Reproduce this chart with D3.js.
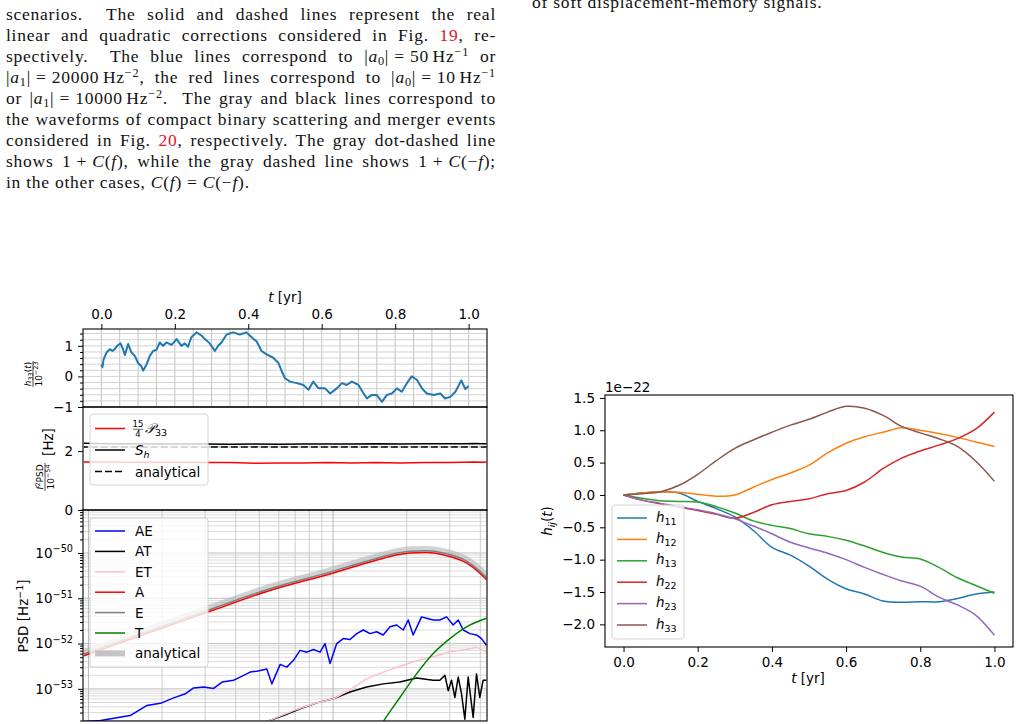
<!DOCTYPE html>
<html>
<head>
<meta charset="utf-8">
<script src="https://cdn.jsdelivr.net/npm/d3@7"></script>
<style>
  body { margin: 0; background: #fff; }
  #page { position: relative; width: 1020px; height: 724px; overflow: hidden; }
  .col { position: absolute; font-family: "Liberation Serif", "DejaVu Serif", serif; font-size: 17.5px; letter-spacing: 0.75px; color: #111; }
  .col .ln { height: 21px; line-height: 21px; text-align: justify; text-align-last: justify; white-space: nowrap; }
  .col .ln.last { text-align-last: left; }
  .col sup, .col sub { font-size: 70%; line-height: 0; position: relative; vertical-align: baseline; }
  .col sup { top: -0.5em; }
  .col sub { top: 0.25em; }
  .ref { color: #e8141c; }
  svg { position: absolute; left: 0; top: 0; }
</style>
</head>
<body>
<div id="page">
  <div class="col" style="left:6px; top:4px; width:490px">
    <div class="ln">scenarios.&nbsp; The solid and dashed lines represent the real</div>
    <div class="ln">linear and quadratic corrections considered in Fig. <span class="ref">19</span>, re-</div>
    <div class="ln">spectively.&nbsp; The blue lines correspond to |<i>a</i><sub>0</sub>|&#8197;=&#8197;50&#8198;Hz<sup>−1</sup> or</div>
    <div class="ln">|<i>a</i><sub>1</sub>|&#8197;=&#8197;20000&#8198;Hz<sup>−2</sup>, the red lines correspond to |<i>a</i><sub>0</sub>|&#8197;=&#8197;10&#8198;Hz<sup>−1</sup></div>
    <div class="ln">or |<i>a</i><sub>1</sub>|&#8197;=&#8197;10000&#8198;Hz<sup>−2</sup>.&nbsp; The gray and black lines correspond to</div>
    <div class="ln">the waveforms of compact binary scattering and merger events</div>
    <div class="ln">considered in Fig. <span class="ref">20</span>, respectively. The gray dot-dashed line</div>
    <div class="ln">shows 1&#8197;+&#8197;<i>C</i>(<i>f</i>), while the gray dashed line shows 1&#8197;+&#8197;<i>C</i>(−<i>f</i>);</div>
    <div class="ln last">in the other cases, <i>C</i>(<i>f</i>)&#8197;=&#8197;<i>C</i>(−<i>f</i>).</div>
  </div>
  <div class="col" style="left:532px; top:-8px; width:420px">
    <div class="ln last">of soft displacement-memory signals.</div>
  </div>
</div>
<script>
// ---------- right figure: h_ij(t), units of 1e-22 ----------
const hTime = [0, 0.05, 0.1, 0.15, 0.2, 0.25, 0.3, 0.35, 0.4, 0.45, 0.5, 0.55, 0.6, 0.65, 0.7, 0.75, 0.8, 0.85, 0.9, 0.95, 1.0];
const h11 = [0, 0.03, 0.05, 0.03, -0.10, -0.21, -0.34, -0.55, -0.81, -0.93, -1.10, -1.30, -1.45, -1.53, -1.64, -1.66, -1.65, -1.65, -1.60, -1.53, -1.50];
const h12 = [0, 0.03, 0.05, 0.04, 0.01, -0.02, 0.0, 0.12, 0.24, 0.34, 0.46, 0.65, 0.80, 0.90, 0.97, 1.04, 1.00, 0.95, 0.89, 0.82, 0.75];
const h13 = [0, -0.05, -0.09, -0.10, -0.11, -0.18, -0.28, -0.40, -0.47, -0.52, -0.60, -0.64, -0.70, -0.79, -0.89, -0.96, -0.99, -1.12, -1.28, -1.40, -1.52];
const h22 = [0, -0.08, -0.14, -0.19, -0.24, -0.30, -0.36, -0.27, -0.15, -0.10, -0.06, 0.02, 0.07, 0.20, 0.41, 0.57, 0.68, 0.77, 0.87, 1.02, 1.28];
const h23 = [0, -0.08, -0.13, -0.18, -0.23, -0.29, -0.37, -0.48, -0.60, -0.73, -0.82, -0.90, -1.00, -1.12, -1.23, -1.33, -1.41, -1.58, -1.70, -1.86, -2.17];
const h33 = [0, 0.02, 0.05, 0.15, 0.32, 0.53, 0.72, 0.85, 0.97, 1.08, 1.17, 1.28, 1.37, 1.34, 1.23, 1.06, 0.96, 0.87, 0.75, 0.52, 0.21];
const hNames = ["11", "12", "13", "22", "23", "33"];
const hColors = ["#1f77b4", "#ff7f0e", "#2ca02c", "#d62728", "#9467bd", "#8c564b"];

// ---------- left figure, top panel: h33(t) / 1e-23 ----------
const tsT = [0, 0.003, 0.006, 0.014, 0.023, 0.03, 0.036, 0.045, 0.052, 0.059, 0.064, 0.073, 0.082, 0.091, 0.1, 0.109, 0.114, 0.123, 0.132, 0.141, 0.15, 0.159, 0.168, 0.177, 0.191, 0.205, 0.218, 0.227, 0.236, 0.245, 0.259, 0.273, 0.282, 0.295, 0.309, 0.318, 0.327, 0.341, 0.359, 0.377, 0.395, 0.409, 0.423, 0.436, 0.45, 0.468, 0.482, 0.491, 0.5, 0.514, 0.532, 0.55, 0.564, 0.577, 0.591, 0.609, 0.623, 0.641, 0.655, 0.668, 0.682, 0.7, 0.714, 0.723, 0.736, 0.75, 0.764, 0.777, 0.791, 0.805, 0.818, 0.832, 0.845, 0.859, 0.873, 0.886, 0.905, 0.923, 0.936, 0.95, 0.964, 0.98, 0.991, 1.0];
const tsV = [0.39, 0.30, 0.56, 0.78, 0.89, 0.83, 0.89, 1.02, 1.08, 0.89, 0.70, 1.06, 0.78, 0.67, 0.44, 0.33, 0.19, 0.39, 0.67, 0.83, 0.87, 1.11, 1.0, 1.11, 1.03, 1.22, 1.0, 1.08, 0.97, 1.28, 1.44, 1.33, 1.22, 1.08, 0.83, 1.0, 1.11, 1.37, 1.44, 1.37, 1.44, 1.28, 1.14, 0.83, 0.72, 0.61, 0.44, 0.17, -0.06, -0.17, -0.22, -0.28, -0.44, -0.17, -0.39, -0.39, -0.56, -0.39, -0.22, -0.28, -0.17, -0.28, -0.56, -0.72, -0.61, -0.61, -0.83, -0.61, -0.56, -0.39, -0.5, -0.22, 0.0, -0.11, -0.39, -0.56, -0.61, -0.56, -0.72, -0.67, -0.5, -0.13, -0.41, -0.31];

// ---------- left figure, middle panel: f^2 PSD / 1e-54 (frequency in nHz) ----------
const midFreq = [9.57, 12, 15, 19, 24, 30, 38, 48, 60, 75, 95, 120, 150, 190, 240, 300, 340, 380, 410, 424];
const p33Vals = [1.63, 1.63, 1.62, 1.62, 1.62, 1.61, 1.61, 1.59, 1.60, 1.60, 1.61, 1.60, 1.61, 1.60, 1.61, 1.61, 1.62, 1.63, 1.62, 1.63];
const shVals = [2.27, 2.25, 2.25, 2.24, 2.24, 2.24, 2.23, 2.24, 2.23, 2.24, 2.24, 2.24, 2.25, 2.24, 2.25, 2.25, 2.25, 2.26, 2.25, 2.25];
const shAnalyticFreq = [9.57, 424];
const shAnalyticVals = [2.14, 2.14];
const grayDashedVals = [2.15, 2.15];

// ---------- left figure, bottom panel: PSD, stored as log10 values ----------
const aeFreq = [9.57, 11.2, 14.8, 17.3, 19.7, 22.3, 24.9, 26.9, 29.6, 32.5, 35.2, 39.2, 41.7, 45.8, 48.8, 53.6, 56.2, 60.8, 64.7, 68.9, 73.3, 78.1, 83.2, 88.5, 92.7, 97.2, 103.5, 110.1, 117.3, 125, 133, 141.6, 150.7, 160.4, 170.9, 181.9, 193.6, 202.9, 212.6, 230, 241, 256.7, 273.3, 291, 309.8, 325, 340.5, 362.5, 385.9, 404.4, 424];
const aeLog = [-53.72, -53.70, -53.59, -53.37, -53.32, -53.20, -53.11, -52.98, -52.96, -52.99, -52.85, -52.81, -52.74, -52.63, -52.61, -52.56, -52.89, -52.46, -52.52, -52.37, -52.15, -52.19, -52.13, -52.19, -52.00, -52.44, -52.00, -51.89, -51.91, -51.78, -51.70, -51.78, -51.74, -51.81, -51.63, -51.59, -51.70, -51.48, -51.81, -51.41, -51.44, -51.48, -51.48, -51.41, -51.59, -51.48, -51.70, -51.78, -51.81, -51.89, -52.04];
const atFreq = [45.8, 53.6, 62.7, 73.3, 85.8, 100.3, 117.3, 137.2, 160.4, 187.6, 219.5, 256.7, 273.3, 286.6, 295.7, 305, 314.8, 324.9, 335.2, 345.8, 356.8, 368.1, 374, 385.9, 398.1, 410.8, 424];
const atLog = [-53.95, -53.72, -53.59, -53.44, -53.31, -53.22, -53.07, -52.96, -52.89, -52.85, -52.76, -52.81, -52.81, -52.70, -53.04, -52.81, -53.19, -52.74, -53.11, -53.67, -52.74, -53.33, -53.63, -52.67, -53.19, -52.81, -52.81];
const etFreq = [45.8, 53.6, 68.9, 83.2, 100.3, 117.3, 137.2, 160.4, 187.6, 219.5, 256.7, 300.3, 351.3, 385.9, 424];
const etLog = [-53.95, -53.72, -53.48, -53.33, -53.22, -53.02, -52.78, -52.63, -52.50, -52.38, -52.29, -52.18, -52.13, -52.08, -52.19];
const aFreq = [9.57, 17.9, 32.5, 53.6, 100.3, 137.2, 206.3, 241.2, 282, 351.3, 398.1, 424];
const aLog = [-52.27, -51.75, -51.26, -50.85, -50.44, -50.22, -50.00, -49.99, -50.04, -50.22, -50.44, -50.59];
const eLog = [-52.23, -51.71, -51.22, -50.81, -50.40, -50.18, -49.96, -49.95, -50.00, -50.18, -50.40, -50.55];
const analyticLog = [-52.20, -51.68, -51.19, -50.78, -50.37, -50.15, -49.93, -49.92, -49.97, -50.15, -50.37, -50.52];
const tFreq = [137.2, 160.4, 187.6, 219.5, 256.7, 300.3, 351.3, 424];
const tLog = [-54.30, -53.72, -53.19, -52.67, -52.22, -51.89, -51.63, -51.44];

const FONT = "DejaVu Sans, sans-serif";
const MINUS = "\u2212";
const fmtNum = (f) => (d) => { const s = f(d); return s.replace("-", MINUS); };

const svg = d3.select("#page").append("svg").attr("width", 1020).attr("height", 724).attr("font-family", FONT);
const defs = svg.append("defs");
function clip(id, x0, y0, x1, y1) {
  defs.append("clipPath").attr("id", id).append("rect")
    .attr("x", x0).attr("y", y0).attr("width", x1 - x0).attr("height", y1 - y0);
  return `url(#${id})`;
}
function styleAxis(g, size) {
  g.select(".domain").remove();
  g.selectAll(".tick line").attr("stroke", "#000").attr("stroke-width", 1);
  g.selectAll(".tick text").attr("font-size", size || 13.5).attr("font-family", FONT).attr("fill", "#000");
  return g;
}
function frame(x0, y0, x1, y1) {
  svg.append("rect").attr("x", x0).attr("y", y0).attr("width", x1 - x0).attr("height", y1 - y0)
    .attr("fill", "none").attr("stroke", "#000").attr("stroke-width", 1.1);
}
function legendBox(x0, y0, x1, y1) {
  svg.append("rect").attr("x", x0).attr("y", y0).attr("width", x1 - x0).attr("height", y1 - y0)
    .attr("rx", 3).attr("fill", "#fff").attr("fill-opacity", 0.8).attr("stroke", "#d4d4d4").attr("stroke-width", 1);
}

// ================= LEFT FIGURE =================
const LX0 = 83, LX1 = 487;
const P1 = [329, 407], P2 = [407, 510], P3 = [510, 721];
const xT = d3.scaleLinear().domain([-0.05, 1.05]).range([LX0, LX1]);
const y1 = d3.scaleLinear().domain([-1, 1.55]).range([P1[1], P1[0]]);
const xF = d3.scaleLog().domain([9.5, 426]).range([LX0, LX1]);
const y2 = d3.scaleLinear().domain([0, 3.5]).range([P2[1], P2[0]]);
const y3 = d3.scaleLog().domain([10 ** -53.71, 10 ** -49.05]).range([P3[1], P3[0]]);

// --- panel 1 grid ---
const g1 = svg.append("g").attr("clip-path", clip("c1", LX0, P1[0], LX1, P1[1]));
const tGrid = d3.range(0, 21).map((i) => i * 0.05);
const vGrid1 = d3.range(-5, 8).map((i) => i * 0.2);
g1.selectAll("line.v").data(tGrid).join("line")
  .attr("x1", (d) => xT(d)).attr("x2", (d) => xT(d)).attr("y1", P1[0]).attr("y2", P1[1])
  .attr("stroke", "#bdbdbd").attr("stroke-width", 0.9);
g1.selectAll("line.h").data(vGrid1).join("line")
  .attr("x1", LX0).attr("x2", LX1).attr("y1", (d) => y1(d)).attr("y2", (d) => y1(d))
  .attr("stroke", "#cfcfcf").attr("stroke-width", 0.9);
g1.append("path").datum(tsT.map((t, i) => [t, tsV[i]]))
  .attr("fill", "none").attr("stroke", "#1f77b4").attr("stroke-width", 2).attr("stroke-linejoin", "round")
  .attr("d", d3.line().x((d) => xT(d[0])).y((d) => y1(d[1])));

styleAxis(svg.append("g").attr("transform", `translate(0,${P1[0]})`)
  .call(d3.axisTop(xT).tickValues([0, 0.2, 0.4, 0.6, 0.8, 1.0]).tickFormat(d3.format(".1f")).tickSize(5).tickPadding(5)));
styleAxis(svg.append("g").attr("transform", `translate(${LX0},0)`)
  .call(d3.axisLeft(y1).tickValues([-1, 0, 1]).tickFormat(fmtNum(d3.format("d"))).tickSize(5).tickPadding(5)));
styleAxis(svg.append("g").attr("transform", `translate(${LX0},0)`)
  .call(d3.axisLeft(y1).tickValues(vGrid1.filter((d) => Math.abs(d - Math.round(d)) > 0.01)).tickFormat("").tickSize(3)));

// top x label
const tl = svg.append("text").attr("x", 285).attr("y", 302).attr("text-anchor", "middle").attr("font-size", 13.5);
tl.append("tspan").attr("font-style", "italic").text("t");
tl.append("tspan").text(" [yr]");

// panel 1 y label (fraction)
const lab1 = svg.append("g").attr("transform", "translate(33,374) rotate(-90)").attr("font-size", 9);
const n1 = lab1.append("text").attr("text-anchor", "middle").attr("y", -2.5);
n1.append("tspan").attr("font-style", "italic").text("h");
n1.append("tspan").attr("font-size", 6.5).attr("dy", 2).text("33");
n1.append("tspan").attr("dy", -2).text("(");
n1.append("tspan").attr("font-style", "italic").text("t");
n1.append("tspan").text(")");
lab1.append("line").attr("x1", -13).attr("x2", 13).attr("stroke", "#000").attr("stroke-width", 0.7);
const d1 = lab1.append("text").attr("text-anchor", "middle").attr("y", 8.5);
d1.append("tspan").text("10");
d1.append("tspan").attr("font-size", 6.5).attr("dy", -3.5).text(MINUS + "23");

// --- panel 2 ---
const g2 = svg.append("g").attr("clip-path", clip("c2", LX0, P2[0], LX1, P2[1]));
const line2 = d3.line().x((d) => xF(d[0])).y((d) => y2(d[1]));
g2.append("path").datum(shAnalyticFreq.map((f, i) => [f, grayDashedVals[i]]))
  .attr("fill", "none").attr("stroke", "#c4c4c4").attr("stroke-width", 1.5).attr("stroke-dasharray", "7,3").attr("d", line2);
g2.append("path").datum(midFreq.map((f, i) => [f, p33Vals[i]]))
  .attr("fill", "none").attr("stroke", "#ff0000").attr("stroke-width", 1.5).attr("d", line2);
g2.append("path").datum(midFreq.map((f, i) => [f, shVals[i]]))
  .attr("fill", "none").attr("stroke", "#000").attr("stroke-width", 1.5).attr("d", line2);
g2.append("path").datum(shAnalyticFreq.map((f, i) => [f, shAnalyticVals[i]]))
  .attr("fill", "none").attr("stroke", "#000").attr("stroke-width", 1.5).attr("stroke-dasharray", "7,3")
  .attr("stroke-dashoffset", 3).attr("d", line2);

styleAxis(svg.append("g").attr("transform", `translate(${LX0},0)`)
  .call(d3.axisLeft(y2).tickValues([0, 2]).tickFormat(d3.format("d")).tickSize(5).tickPadding(5)));

// panel 2 legend
legendBox(90, 414, 208, 485);
const leg2 = [
  { y: 428.5, color: "#ff0000", dash: null },
  { y: 450, color: "#000", dash: null },
  { y: 471.5, color: "#000", dash: "7,3" },
];
leg2.forEach((d) => {
  svg.append("line").attr("x1", 95).attr("x2", 125).attr("y1", d.y).attr("y2", d.y)
    .attr("stroke", d.color).attr("stroke-width", 1.5).attr("stroke-dasharray", d.dash);
});
svg.append("text").attr("x", 138).attr("y", 427).attr("text-anchor", "middle").attr("font-size", 8.5).text("15");
svg.append("line").attr("x1", 133).attr("x2", 143).attr("y1", 429.3).attr("y2", 429.3).attr("stroke", "#000").attr("stroke-width", 0.6);
svg.append("text").attr("x", 138).attr("y", 436.5).attr("text-anchor", "middle").attr("font-size", 8.5).text("4");
const pl = svg.append("text").attr("x", 145).attr("y", 433).attr("font-size", 13.5);
pl.append("tspan").attr("font-style", "italic").text("\uD835\uDCAB");
pl.append("tspan").attr("font-size", 9.5).attr("dy", 2.5).text("33");
const shl = svg.append("text").attr("x", 135).attr("y", 455).attr("font-size", 13.5);
shl.append("tspan").attr("font-style", "italic").text("S");
shl.append("tspan").attr("font-style", "italic").attr("font-size", 9.5).attr("dy", 3).text("h");
svg.append("text").attr("x", 135).attr("y", 476.5).attr("font-size", 13.5).text("analytical");

// panel 2 y label
const lab2 = svg.append("g").attr("transform", "translate(45,459) rotate(-90)");
const n2 = lab2.append("text").attr("text-anchor", "middle").attr("x", -18).attr("y", -2.5).attr("font-size", 9);
n2.append("tspan").attr("font-style", "italic").text("f");
n2.append("tspan").attr("font-size", 6.5).attr("dy", -3).text("2");
n2.append("tspan").attr("dy", 3).text("PSD");
lab2.append("line").attr("x1", -32).attr("x2", -4).attr("stroke", "#000").attr("stroke-width", 0.7);
const d2 = lab2.append("text").attr("text-anchor", "middle").attr("x", -18).attr("y", 8.5).attr("font-size", 9);
d2.append("tspan").text("10");
d2.append("tspan").attr("font-size", 6.5).attr("dy", -3.5).text(MINUS + "54");
lab2.append("text").attr("text-anchor", "middle").attr("x", 17).attr("y", 8).attr("font-size", 13.5).text("[Hz]");

// --- panel 3 ---
const g3 = svg.append("g").attr("clip-path", clip("c3", LX0, P3[0], LX1, P3[1]));
const hGrid3 = [];
[-54, -53, -52, -51, -50].forEach((k) => [1, 2, 3, 4, 5, 6, 7, 8, 9].forEach((m) => hGrid3.push({ v: m * 10 ** k, major: m === 1 })));
const fGrid = [10, 20, 30, 40, 50, 60, 70, 80, 90, 100, 200, 300, 400];
g3.selectAll("line.h").data(hGrid3).join("line")
  .attr("x1", LX0).attr("x2", LX1).attr("y1", (d) => y3(d.v)).attr("y2", (d) => y3(d.v))
  .attr("stroke", (d) => (d.major ? "#b8b8b8" : "#d6d6d6")).attr("stroke-width", 0.9);
g3.selectAll("line.v").data(fGrid).join("line")
  .attr("x1", (d) => xF(d)).attr("x2", (d) => xF(d)).attr("y1", P3[0]).attr("y2", P3[1])
  .attr("stroke", (d) => (d === 10 || d === 100 ? "#b0b0b0" : "#c8c8c8")).attr("stroke-width", 0.9);

const line3 = d3.line().x((d) => xF(d[0])).y((d) => y3(10 ** d[1]));
const smooth3 = d3.line().x((d) => xF(d[0])).y((d) => y3(10 ** d[1])).curve(d3.curveMonotoneX);
g3.append("path").datum(aFreq.map((f, i) => [f, analyticLog[i]]))
  .attr("fill", "none").attr("stroke", "#b4b4b4").attr("stroke-opacity", 0.6).attr("stroke-width", 7).attr("d", smooth3);
const series3 = [
  { f: aeFreq, v: aeLog, color: "#0000ff", gen: line3 },
  { f: atFreq, v: atLog, color: "#000000", gen: line3 },
  { f: etFreq, v: etLog, color: "#ffc0cb", gen: line3 },
  { f: aFreq, v: aLog, color: "#ff0000", gen: smooth3 },
  { f: aFreq, v: eLog, color: "#808080", gen: smooth3 },
  { f: tFreq, v: tLog, color: "#008000", gen: smooth3 },
];
series3.forEach((s) => {
  g3.append("path").datum(s.f.map((f, i) => [f, s.v[i]]))
    .attr("fill", "none").attr("stroke", s.color).attr("stroke-width", 1.5).attr("stroke-linejoin", "round").attr("d", s.gen);
});

const yAx3 = styleAxis(svg.append("g").attr("transform", `translate(${LX0},0)`)
  .call(d3.axisLeft(y3).tickValues([1e-53, 1e-52, 1e-51, 1e-50]).tickFormat(() => "").tickSize(5).tickPadding(5)));
yAx3.selectAll(".tick text").each(function (d) {
  const t = d3.select(this).text("10");
  t.append("tspan").attr("dy", "-0.55em").attr("font-size", "0.72em").text(MINUS + String(-Math.round(Math.log10(d))));
});
styleAxis(svg.append("g").attr("transform", `translate(${LX0},0)`)
  .call(d3.axisLeft(y3).tickValues(hGrid3.filter((d) => !d.major).map((d) => d.v)).tickFormat("").tickSize(3)));

// panel 3 legend
legendBox(90, 518, 208, 667);
const leg3 = [
  { label: "AE", color: "#0000ff", w: 1.5 },
  { label: "AT", color: "#000000", w: 1.5 },
  { label: "ET", color: "#ffc0cb", w: 1.5 },
  { label: "A", color: "#ff0000", w: 1.5 },
  { label: "E", color: "#808080", w: 1.5 },
  { label: "T", color: "#008000", w: 1.5 },
  { label: "analytical", color: "#c4c4c4", w: 6 },
];
leg3.forEach((d, i) => {
  const y = 531 + i * 20.4;
  svg.append("line").attr("x1", 95).attr("x2", 125).attr("y1", y).attr("y2", y).attr("stroke", d.color).attr("stroke-width", d.w);
  svg.append("text").attr("x", 135).attr("y", y + 5).attr("font-size", 13.5).text(d.label);
});

// panel 3 y label
const lab3 = svg.append("text").attr("transform", "translate(28,616) rotate(-90)").attr("text-anchor", "middle").attr("font-size", 13.5);
lab3.append("tspan").text("PSD [Hz");
lab3.append("tspan").attr("font-size", 9.5).attr("dy", -5).text(MINUS + "1");
lab3.append("tspan").attr("dy", 5).text("]");

frame(LX0, P1[0], LX1, P1[1]);
frame(LX0, P2[0], LX1, P2[1]);
frame(LX0, P3[0], LX1, P3[1]);

// ================= RIGHT FIGURE =================
const RX0 = 605, RX1 = 1013, RY0 = 395, RY1 = 647;
const xR = d3.scaleLinear().domain([-0.05, 1.05]).range([RX0, RX1]);
const yR = d3.scaleLinear().domain([-2.35, 1.545]).range([RY1, RY0]);
const gR = svg.append("g").attr("clip-path", clip("cR", RX0, RY0, RX1, RY1));
const lineR = d3.line().x((d) => xR(d[0])).y((d) => yR(d[1])).curve(d3.curveCatmullRom.alpha(0.5));
[h11, h12, h13, h22, h23, h33].forEach((arr, k) => {
  gR.append("path").datum(hTime.map((t, i) => [t, arr[i]]))
    .attr("fill", "none").attr("stroke", hColors[k]).attr("stroke-width", 1.5).attr("d", lineR);
});
styleAxis(svg.append("g").attr("transform", `translate(0,${RY1})`)
  .call(d3.axisBottom(xR).tickValues([0, 0.2, 0.4, 0.6, 0.8, 1.0]).tickFormat(d3.format(".1f")).tickSize(5).tickPadding(5)));
styleAxis(svg.append("g").attr("transform", `translate(${RX0},0)`)
  .call(d3.axisLeft(yR).tickValues([-2, -1.5, -1, -0.5, 0, 0.5, 1, 1.5]).tickFormat(fmtNum(d3.format(".1f"))).tickSize(5).tickPadding(5)));
svg.append("text").attr("x", RX0).attr("y", 392).attr("font-size", 13.5).text("1e" + MINUS + "22");
const xl = svg.append("text").attr("x", 808).attr("y", 683).attr("text-anchor", "middle").attr("font-size", 13.5);
xl.append("tspan").attr("font-style", "italic").text("t");
xl.append("tspan").text(" [yr]");
const yl = svg.append("text").attr("transform", "translate(552,521) rotate(-90)").attr("text-anchor", "middle").attr("font-size", 13.5);
yl.append("tspan").attr("font-style", "italic").text("h");
yl.append("tspan").attr("font-style", "italic").attr("font-size", 9.5).attr("dy", 3).text("ij");
yl.append("tspan").attr("dy", -3).text("(");
yl.append("tspan").attr("font-style", "italic").text("t");
yl.append("tspan").text(")");

legendBox(612, 505, 684, 639);
hNames.forEach((name, i) => {
  const y = 518 + i * 21.4;
  svg.append("line").attr("x1", 617).attr("x2", 647).attr("y1", y).attr("y2", y).attr("stroke", hColors[i]).attr("stroke-width", 1.5);
  const t = svg.append("text").attr("x", 656).attr("y", y + 3.5).attr("font-size", 13.5);
  t.append("tspan").attr("font-style", "italic").text("h");
  t.append("tspan").attr("font-size", 9.5).attr("dy", 3).text(name);
});
frame(RX0, RY0, RX1, RY1);
</script>
</body>
</html>
